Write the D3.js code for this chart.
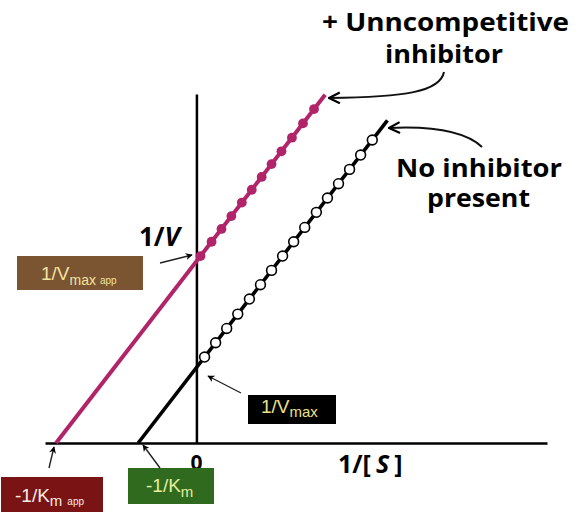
<!DOCTYPE html>
<html>
<head>
<meta charset="utf-8">
<script src="https://cdn.jsdelivr.net/npm/d3@7"></script>
<style>
  html, body { margin: 0; padding: 0; background: #fff; }
  svg { display: block; }
</style>
</head>
<body>
<svg id="chart" width="585" height="518"></svg>
<script>
// ---- data (Lineweaver-Burk, unitless) ----
const Km = 1;            // -1/Km at x = -1
const Vmax = 1;          // 1/Vmax at y = 1
const alphaPrime = 2.41; // uncompetitive factor: 1/Vmax app = alpha'/Vmax, -1/Km app = -alpha'/Km
const noInhibitorX = [-1, 3.28];          // line extent in 1/[S]
const inhibitorX = [-2.41, 2.21];         // line extent in 1/[S]
const noInhibitorPoints = [0.14, 0.33, 0.52, 0.71, 0.91, 1.10, 1.29, 1.48, 1.67, 1.86, 2.06, 2.25, 2.44, 2.63, 2.82, 3.02];
const inhibitorPoints = [0.07, 0.26, 0.43, 0.60, 0.78, 0.95, 1.12, 1.29, 1.46, 1.64, 1.83, 2.02];
const xDomain = [-2.6, 6.02];
const yDomain = [0, 4.63];

const svg = d3.select("#chart");
const x = d3.scaleLinear().domain(xDomain).range([45, 547]);
const y = d3.scaleLinear().domain(yDomain).range([443, 94]);

const magenta = "#b1246a";

const lineNo = v => (Km / Vmax) * v + 1 / Vmax;
const lineInh = v => (Km / Vmax) * v + alphaPrime / Vmax;

// markers
const defs = svg.append("defs");
defs.append("marker").attr("id", "headSmall")
  .attr("viewBox", "0 0 10 10").attr("refX", 9).attr("refY", 5)
  .attr("markerWidth", 7).attr("markerHeight", 7).attr("markerUnits", "userSpaceOnUse")
  .attr("orient", "auto")
  .append("path").attr("d", "M0,0 L10,5 L0,10 L3,5 Z").attr("fill", "#000");
defs.append("marker").attr("id", "headOpen")
  .attr("viewBox", "0 0 12 12").attr("refX", 11).attr("refY", 6)
  .attr("markerWidth", 13).attr("markerHeight", 13).attr("markerUnits", "userSpaceOnUse")
  .attr("orient", "auto")
  .append("path").attr("d", "M1,1 L11,6 L1,11").attr("fill", "none")
  .attr("stroke", "#000").attr("stroke-width", 2).attr("stroke-linejoin", "miter");

// axes
svg.append("g").attr("transform", `translate(0,${y(0)})`)
  .call(d3.axisBottom(x).tickValues([]).tickSizeOuter(0));
svg.append("g").attr("transform", `translate(${x(0)},0)`)
  .call(d3.axisLeft(y).tickValues([]).tickSizeOuter(0));
svg.selectAll(".domain").attr("stroke", "#000").attr("stroke-width", 2.5);

// lines
const lineGen = f => d3.line().x(d => x(d)).y(d => y(f(d)));
svg.append("path").datum(noInhibitorX).attr("d", lineGen(lineNo))
  .attr("stroke", "#000").attr("stroke-width", 3.6).attr("fill", "none");
svg.append("path").datum(inhibitorX).attr("d", lineGen(lineInh))
  .attr("stroke", magenta).attr("stroke-width", 4).attr("fill", "none");

// points
svg.append("g").selectAll("circle").data(noInhibitorPoints).join("circle")
  .attr("cx", d => x(d)).attr("cy", d => y(lineNo(d))).attr("r", 4.9)
  .attr("fill", "#fff").attr("stroke", "#000").attr("stroke-width", 1.6);
svg.append("g").selectAll("circle").data(inhibitorPoints).join("circle")
  .attr("cx", d => x(d)).attr("cy", d => y(lineInh(d))).attr("r", 4.9)
  .attr("fill", magenta);

// axis labels
const boldFont = "'Open Sans', 'DejaVu Sans', sans-serif";
const lbl = svg.append("text").attr("x", 139).attr("y", 246)
  .attr("font-family", boldFont).attr("font-weight", "bold").attr("font-size", 26);
lbl.append("tspan").text("1/");
lbl.append("tspan").attr("font-style", "italic").text("V");

const lblx = svg.append("text").attr("x", 338).attr("y", 473)
  .attr("font-family", boldFont).attr("font-weight", "bold").attr("font-size", 25);
lblx.append("tspan").text("1/[");
lblx.append("tspan").attr("font-style", "italic").attr("dx", 5).text("S");
lblx.append("tspan").attr("dx", 5).text("]");

svg.append("text").attr("x", x(0)).attr("y", 470).attr("text-anchor", "middle")
  .attr("font-family", boldFont).attr("font-weight", "bold").attr("font-size", 21).text("0");

// annotations text
const annot = [
  { t: "+ Unncompetitive", x: 322, y: 31, w: 247 },
  { t: "inhibitor", x: 385, y: 63, w: 118 },
  { t: "No inhibitor", x: 396, y: 177, w: 166 },
  { t: "present", x: 427, y: 207, w: 103 }
];
svg.append("g").selectAll("text").data(annot).join("text")
  .attr("x", d => d.x).attr("y", d => d.y)
  .attr("textLength", d => d.w).attr("lengthAdjust", "spacingAndGlyphs")
  .attr("font-family", boldFont).attr("font-weight", "bold").attr("font-size", 24.5)
  .attr("fill", "#000").text(d => d.t);

// curved annotation arrows
svg.append("path").attr("d", "M444,72 C440,92 405,97 329,98")
  .attr("fill", "none").attr("stroke", "#111").attr("stroke-width", 2)
  .attr("marker-end", "url(#headOpen)");
svg.append("path").attr("d", "M482,147 C466,132 432,126 389,128")
  .attr("fill", "none").attr("stroke", "#111").attr("stroke-width", 2)
  .attr("marker-end", "url(#headOpen)");

// boxes
const sansFont = "'Liberation Sans', Arial, sans-serif";
function box(x0, y0, w, h, fill, color, parts, tx, ty) {
  svg.append("rect").attr("x", x0).attr("y", y0).attr("width", w).attr("height", h).attr("fill", fill);
  const t = svg.append("text").attr("x", tx).attr("y", ty)
    .attr("font-family", sansFont).attr("fill", color);
  parts.forEach(p => {
    t.append("tspan").attr("font-size", p.s).attr("dy", p.dy || 0).attr("dx", p.dx || 0).text(p.t);
  });
}
box(17, 256, 126, 34, "#7b5432", "#f1e3a0",
  [{ t: "1/V", s: 19 }, { t: "max", s: 14, dy: 5 }, { t: "app", s: 10, dx: 4, dy: -1 }], 41, 280);
box(248, 395, 88, 29, "#000", "#ece08c",
  [{ t: "1/V", s: 19 }, { t: "max", s: 15, dy: 4 }], 261, 413);
box(128, 468, 86, 36, "#2f6a1f", "#e4ee9c",
  [{ t: "-1/K", s: 19 }, { t: "m", s: 15, dy: 5 }], 146, 492);
box(1, 477, 102, 35, "#7a1313", "#f6ece6",
  [{ t: "-1/K", s: 19 }, { t: "m", s: 15, dy: 4 }, { t: "app", s: 10, dx: 5, dy: -1 }], 15, 502);

// straight pointer arrows
const pointers = [
  { x1: 160, y1: 263, x2: 192, y2: 255 },
  { x1: 241, y1: 393, x2: 208, y2: 376 },
  { x1: 160, y1: 468, x2: 143, y2: 445 },
  { x1: 49, y1: 468, x2: 54, y2: 447 }
];
svg.append("g").selectAll("line").data(pointers).join("line")
  .attr("x1", d => d.x1).attr("y1", d => d.y1).attr("x2", d => d.x2).attr("y2", d => d.y2)
  .attr("stroke", "#222").attr("stroke-width", 1.4).attr("marker-end", "url(#headSmall)");
</script>
</body>
</html>
